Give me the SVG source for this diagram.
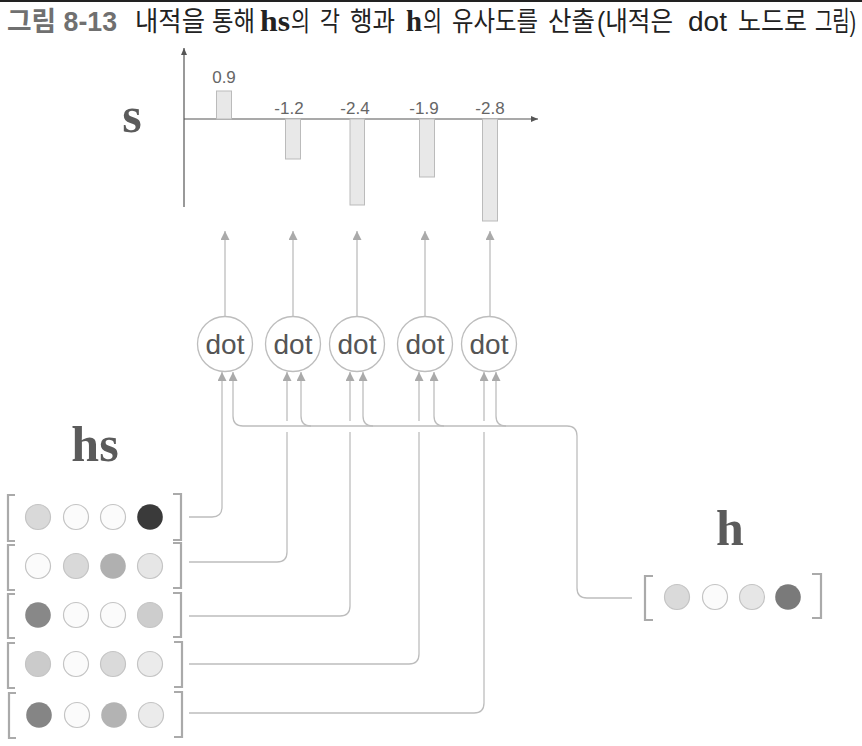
<svg xmlns="http://www.w3.org/2000/svg" width="862" height="746" viewBox="0 0 862 746">
<style>
.t{font-family:"Liberation Sans","Noto Sans CJK KR",sans-serif;font-size:27px;fill:#222}
.tb{font-family:"Liberation Sans","Noto Sans CJK KR",sans-serif;font-size:27px;font-weight:bold;fill:#707070}
.ts{font-family:"Liberation Serif",serif;font-weight:bold;font-size:29px;fill:#222}
.big{font-family:"Liberation Serif",serif;font-weight:bold;font-size:50px;fill:#5b5b5b;text-anchor:middle}
.num{font-family:"Liberation Sans",sans-serif;font-size:17px;fill:#666;text-anchor:middle}
.bar{fill:#e8e8e8;stroke:#bbb;stroke-width:1}
.axis{stroke:#555;stroke-width:1.2;fill:none}
.con{stroke:#bdbdbd;stroke-width:1.3;fill:none}
.arr{marker-end:url(#ah)}
.dotc{fill:#fff;stroke:#bdbdbd;stroke-width:1.3}
.dott{font-family:"Liberation Sans",sans-serif;font-size:28px;fill:#555;text-anchor:middle}
.br{stroke:#aaa;stroke-width:2.2;fill:none}
.c{stroke:#c4c4c4;stroke-width:1.2}
</style>
<defs>
<marker id="ah" viewBox="0 0 9 9" refX="9" refY="4.5" markerWidth="9" markerHeight="9" markerUnits="userSpaceOnUse" orient="auto"><path d="M0,0 L9,4.5 L0,9 z" fill="#aaa"/></marker>
<marker id="ax" viewBox="0 0 7 6" refX="7" refY="3" markerWidth="7" markerHeight="6" markerUnits="userSpaceOnUse" orient="auto"><path d="M0,0 L7,3 L0,6 z" fill="#555"/></marker>
</defs>
<rect x="0" y="0" width="862" height="2" fill="#222"/>
<g id="title">
<text class="tb" x="7" y="31" textLength="110" lengthAdjust="spacingAndGlyphs">그림 8-13</text>
<text class="t" x="135" y="31" textLength="70" lengthAdjust="spacingAndGlyphs">내적을</text>
<text class="t" x="212" y="31" textLength="43" lengthAdjust="spacingAndGlyphs">통해</text>
<text class="ts" x="260" y="31" textLength="30" lengthAdjust="spacingAndGlyphs">hs</text>
<text class="t" x="291" y="31" textLength="19" lengthAdjust="spacingAndGlyphs">의</text>
<text class="t" x="320" y="31" textLength="20" lengthAdjust="spacingAndGlyphs">각</text>
<text class="t" x="350" y="31" textLength="45" lengthAdjust="spacingAndGlyphs">행과</text>
<text class="ts" x="406" y="31" textLength="16" lengthAdjust="spacingAndGlyphs">h</text>
<text class="t" x="423" y="31" textLength="19" lengthAdjust="spacingAndGlyphs">의</text>
<text class="t" x="452" y="31" textLength="86" lengthAdjust="spacingAndGlyphs">유사도를</text>
<text class="t" x="548" y="31" textLength="47" lengthAdjust="spacingAndGlyphs">산출</text>
<text class="t" x="597" y="31" textLength="76" lengthAdjust="spacingAndGlyphs">(내적은</text>
<text class="t" x="688" y="31" textLength="39" lengthAdjust="spacingAndGlyphs">dot</text>
<text class="t" x="738" y="31" textLength="69" lengthAdjust="spacingAndGlyphs">노드로</text>
<text class="t" x="815" y="31" textLength="41" lengthAdjust="spacingAndGlyphs">그림)</text>
</g>
<g id="chart">
<text class="big" x="132" y="132">s</text>
<line class="axis" x1="184" y1="207" x2="184" y2="48" marker-end="url(#ax)"/>
<line class="axis" x1="184" y1="119" x2="538" y2="119" marker-end="url(#ax)"/>
<rect class="bar" x="216.5" y="91" width="15" height="28"/>
<rect class="bar" x="285.5" y="119" width="15" height="40"/>
<rect class="bar" x="350" y="119" width="14.5" height="86"/>
<rect class="bar" x="419.5" y="119" width="15" height="58"/>
<rect class="bar" x="482.5" y="119" width="15" height="102"/>
<text class="num" x="224" y="83">0.9</text>
<text class="num" x="289" y="114">-1.2</text>
<text class="num" x="355" y="114">-2.4</text>
<text class="num" x="424" y="114">-1.9</text>
<text class="num" x="490" y="114">-2.8</text>
</g>
<g id="connectors">
<path class="con arr" d="M225,317 V231"/>
<path class="con arr" d="M293,317 V231"/>
<path class="con arr" d="M357,317 V231"/>
<path class="con arr" d="M425,317 V231"/>
<path class="con arr" d="M490,317 V231"/>
<path class="con arr" d="M189,517 H212 Q222,517 222,507 V372"/>
<path class="con arr" d="M189,562 H277 Q287,562 287,552 V432 M287,421 V372"/>
<path class="con arr" d="M189,616 H340 Q350,616 350,606 V432 M350,421 V372"/>
<path class="con arr" d="M189,664 H409 Q419,664 419,654 V432 M419,421 V372"/>
<path class="con arr" d="M189,713 H474 Q484,713 484,703 V432 M484,421 V372"/>
<path class="con arr" d="M632,598 H587 Q577,598 577,588 V436 Q577,426 567,426 H243 Q233,426 233,416 V372"/>
<path class="con arr" d="M311,426 Q301,426 301,416 V372"/>
<path class="con arr" d="M373,426 Q363,426 363,416 V372"/>
<path class="con arr" d="M444,426 Q434,426 434,416 V372"/>
<path class="con arr" d="M506,426 Q496,426 496,416 V372"/>
</g>
<g id="dot1"><circle class="dotc" cx="225" cy="344" r="27.5"/><text class="dott" x="225" y="354">dot</text></g>
<g id="dot2"><circle class="dotc" cx="293" cy="344" r="27.5"/><text class="dott" x="293" y="354">dot</text></g>
<g id="dot3"><circle class="dotc" cx="357" cy="344" r="27.5"/><text class="dott" x="357" y="354">dot</text></g>
<g id="dot4"><circle class="dotc" cx="425" cy="344" r="27.5"/><text class="dott" x="425" y="354">dot</text></g>
<g id="dot5"><circle class="dotc" cx="489" cy="344" r="27.5"/><text class="dott" x="489" y="354">dot</text></g>
<g id="hs">
<text class="big" x="95" y="461">hs</text>
<path class="br" d="M15,495 H8 V541 H15 M173,494 H181 V540 H173"/>
<circle class="c" cx="38" cy="517" r="12.5" fill="#d9d9d9"/><circle class="c" cx="76" cy="517" r="12.5" fill="#fbfbfb"/><circle class="c" cx="113" cy="517" r="12.5" fill="#fbfbfb"/><circle cx="150" cy="517" r="12.8" fill="#3a3a3a"/>
<path class="br" d="M15,545 H8 V590 H15 M173,543 H181 V588 H173"/>
<circle class="c" cx="38" cy="566" r="12.5" fill="#fbfbfb"/><circle class="c" cx="76" cy="566" r="12.5" fill="#d9d9d9"/><circle cx="113" cy="566" r="12.8" fill="#b0b0b0"/><circle class="c" cx="150" cy="566" r="12.5" fill="#e6e6e6"/>
<path class="br" d="M15,594 H8 V638 H15 M173,593 H181 V637 H173"/>
<circle cx="38" cy="615" r="12.8" fill="#888"/><circle class="c" cx="76" cy="615" r="12.5" fill="#fbfbfb"/><circle class="c" cx="113" cy="615" r="12.5" fill="#fbfbfb"/><circle class="c" cx="150" cy="615" r="12.5" fill="#cdcdcd"/>
<path class="br" d="M15,643 H8 V688 H15 M174,642 H182 V687 H174"/>
<circle class="c" cx="38" cy="664" r="12.5" fill="#cbcbcb"/><circle class="c" cx="76" cy="664" r="12.5" fill="#fbfbfb"/><circle class="c" cx="113" cy="664" r="12.5" fill="#dadada"/><circle class="c" cx="150" cy="664" r="12.5" fill="#ebebeb"/>
<path class="br" d="M16,693 H9 V738 H16 M174,692 H182 V737 H174"/>
<circle cx="39" cy="715" r="12.8" fill="#858585"/><circle class="c" cx="77" cy="715" r="12.5" fill="#fbfbfb"/><circle cx="114" cy="715" r="12.8" fill="#b3b3b3"/><circle class="c" cx="151" cy="715" r="12.5" fill="#ebebeb"/>
</g>
<g id="h">
<text class="big" x="730" y="545">h</text>
<path class="br" d="M653,576 H645 V620 H653 M812,574 H821 V618 H812"/>
<circle class="c" cx="677" cy="597" r="12.5" fill="#dadada"/><circle class="c" cx="715" cy="597" r="12.5" fill="#fbfbfb"/><circle class="c" cx="752" cy="597" r="12.5" fill="#e6e6e6"/><circle cx="788" cy="597" r="12.8" fill="#7a7a7a"/>
</g>
</svg>
